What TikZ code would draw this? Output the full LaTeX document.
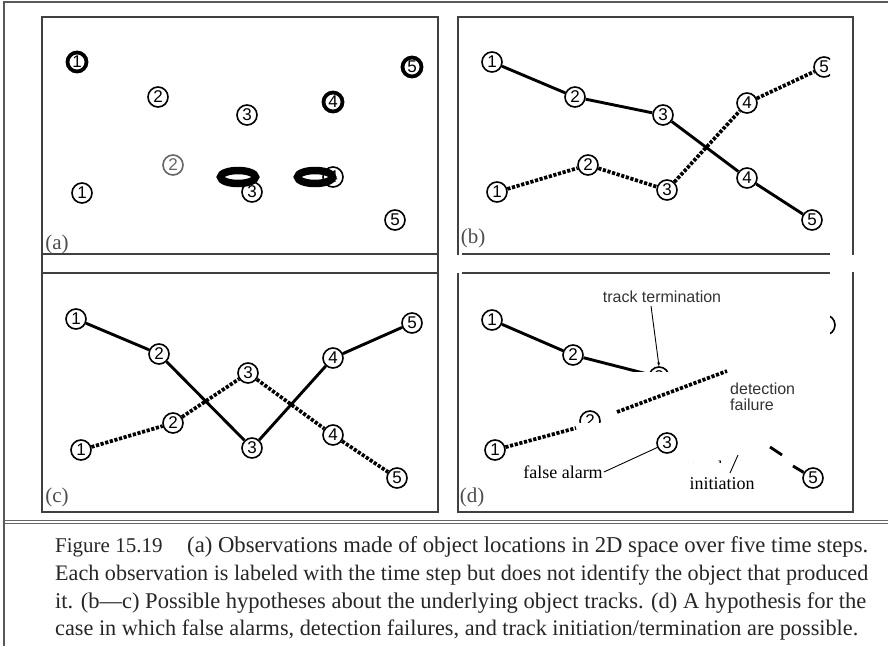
\documentclass[tikz,border=0pt]{standalone}
\usepackage{fontspec}
\setmainfont{Liberation Serif}
\setsansfont{Liberation Sans}
\usetikzlibrary{shapes.geometric,arrows.meta}
\begin{document}
\begin{tikzpicture}[x=1pt,y=-1pt,
  obs/.style={circle,draw,line width=1.6pt,minimum size=20pt,inner sep=0pt,font=\sffamily\fontsize{17}{17}\selectfont},
  obsbold/.style={obs,line width=3.8pt,minimum size=19pt},
  solidtrack/.style={line width=2.9pt},
  dottrack/.style={line width=3.7pt,dash pattern=on 3.2pt off 1.6pt},
  frameline/.style={line width=2pt,draw=black!75},
  plabel/.style={font=\fontsize{21}{21}\selectfont,text=black!70,inner sep=0pt},
  annsans/.style={font=\sffamily\fontsize{16}{16}\selectfont,text=black!80,inner sep=1pt},
  annserif/.style={font=\fontsize{18}{18}\selectfont,inner sep=1pt},
  pointer/.style={line width=0.9pt},
  blob/.style={ellipse,draw,line width=7.5pt,minimum width=35pt,minimum height=13pt,inner sep=0pt},
  captxt/.style={font=\fontsize{21}{21}\selectfont,anchor=base west,inner sep=0pt,text=black!85}
]
\useasboundingbox (0,0) rectangle (888,646);
\fill[white] (0,0) rectangle (888,646);
% outer frame and caption rule
\draw[line width=1.2pt,black!65] (4,646) -- (4,2) -- (888,2);
\draw[line width=0.9pt,black!60] (4,520.5) -- (888,520.5) (4,523.5) -- (888,523.5);
% panel frames
\draw[frameline] (42,17) rectangle (438,512);
\draw[frameline] (42,254) -- (438,254) (42,273) -- (438,273);
\draw[frameline] (458,255) -- (458,17) -- (853,17) -- (853,255);
\draw[frameline] (462,254) -- (830,254);
\draw[frameline] (462,273) -- (830,273);
\draw[frameline] (458,273) -- (458,512) -- (853,512) -- (853,272);

% ---------- panel (a)
\node[obsbold] (a1t) at (77,62) {1};
\node[obsbold] (a5t) at (412,67) {5};
\node[obs] (a2t) at (158,97) {2};
\node[obs] (a3t) at (247,115) {3};
\node[obsbold] (a4t) at (333,102) {4};
\node[obs,draw=black!60,text=black!60] (a2b) at (173,165) {2};
\node[blob] (ae1) at (238,177) {};
\node[obs] (a3b) at (252,192) {3};
\node[blob] (ae2) at (315,177) {};
\node[obs] (a4b) at (333,177) {4};
\node[obs] (a1b) at (82,193) {1};
\node[obs] (a5b) at (395,220) {5};
\node[plabel] (la) at (57,244) {(a)};

% ---------- panel (b)
\begin{scope}
\clip (459,18) rectangle (830,253);
\node[obs] (b1t) at (492,62) {1};
\node[obs] (b2t) at (575,97) {2};
\node[obs] (b3t) at (663,115) {3};
\node[obs] (b4b) at (747,178) {4};
\node[obs] (b5b) at (812,220) {5};
\node[obs] (b1b) at (497,192) {1};
\node[obs] (b2b) at (588,165) {2};
\node[obs] (b3b) at (667,190) {3};
\node[obs] (b4t) at (747,103) {4};
\node[obs] (b5t) at (824,67) {5};
\draw[solidtrack] (b1t) -- (b2t) -- (b3t) -- (b4b) -- (b5b);
\draw[dottrack] (b1b) -- (b2b) -- (b3b) -- (b4t) -- (b5t);
\end{scope}
\node[plabel] (lb) at (473,238) {(b)};

% ---------- panel (c)
\node[obs] (c1t) at (76,319) {1};
\node[obs] (c2t) at (159,354) {2};
\node[obs] (c3b) at (252,448) {3};
\node[obs] (c4t) at (333,358) {4};
\node[obs] (c5t) at (412,323) {5};
\node[obs] (c1b) at (81,450) {1};
\node[obs] (c2b) at (173,423) {2};
\node[obs] (c3t) at (248,373) {3};
\node[obs] (c4b) at (333,435) {4};
\node[obs] (c5b) at (397,478) {5};
\draw[solidtrack] (c1t) -- (c2t) -- (c3b) -- (c4t) -- (c5t);
\draw[dottrack] (c1b) -- (c2b) -- (c3t) -- (c4b) -- (c5b);
\node[plabel] (lc) at (57,497) {(c)};

% ---------- panel (d)
\node[obs] (d1t) at (492,320) {1};
\node[obs] (d2t) at (573,355) {2};
\draw[solidtrack] (d1t) -- (d2t);
\begin{scope}
\clip (560,330) rectangle (720,371);
\node[obs] (d3t) at (659,377) {3};
\draw[solidtrack] (d2t) -- (d3t);
\end{scope}
\node[annsans] (dtt) at (662,297) {track termination};
\coordinate (dts) at (651,306);
\draw[pointer,-{Stealth[length=4pt,width=3pt]}] (dts) -- (d3t.north);
% lower dotted track, partly hidden
\begin{scope}
\clip (480,430) rectangle (507,470);
\node[obs] (d1b) at (495,450) {1};
\end{scope}
\coordinate (dA) at (576,428);
\draw[dottrack] (d1b) -- (dA);
\begin{scope}
\clip (572,404) rectangle (606,422);
\node[obs] (d2b) at (590,421) {2};
\end{scope}
\coordinate (dB) at (617,412);
\coordinate (dC) at (727,371);
\draw[dottrack] (dB) -- (dC);
\begin{scope}
\clip (830,300) rectangle (845,345);
\node[obs] (d5t) at (825,325) {5};
\end{scope}
\begin{scope}
\clip (725,370) rectangle (795,420);
\node[annsans,anchor=west,align=left] (ddf) at (729,397) {detection\\failure};
\end{scope}
% false alarm
\node[obs] (d3f) at (667,443) {3};
\node[annserif] (dfa) at (563,472) {false alarm};
\draw[pointer] (dfa.east) -- (d3f);
% track initiation
\begin{scope}
\clip (680,450) rectangle (735,462);
\node[annserif] (dtr) at (709,467) {track};
\end{scope}
\node[annserif] (dti) at (722,484) {initiation};
\coordinate (dTs) at (730,473);
\coordinate (dTe) at (738,455);
\draw[pointer] (dTs) -- (dTe);
\coordinate (e1) at (770,447);
\coordinate (e2) at (782,455);
\coordinate (e3) at (793,466);
\begin{scope}
\clip (790,460) rectangle (830,500);
\node[obs] (d5b) at (813,478) {5};
\draw[solidtrack] (e3) -- (d5b);
\end{scope}
\draw[solidtrack] (e1) -- (e2);
\node[plabel] (ld) at (472,497) {(d)};

% ---------- caption
\node[captxt] (cap0) at (55,552) {Figure 15.19};
\node[captxt] (cap1) at (187,552) {\resizebox{681pt}{!}{(a) Observations made of object locations in 2D space over five time steps.}};
\node[captxt] (cap2) at (55,580) {\resizebox{813pt}{!}{Each observation is labeled with the time step but does not identify the object that produced}};
\node[captxt] (cap3) at (55,608) {\resizebox{811pt}{!}{it. (b—c) Possible hypotheses about the underlying object tracks. (d) A hypothesis for the}};
\node[captxt] (cap4) at (55,635) {\resizebox{803pt}{!}{case in which false alarms, detection failures, and track initiation/termination are possible.}};
\end{tikzpicture}
\end{document}
